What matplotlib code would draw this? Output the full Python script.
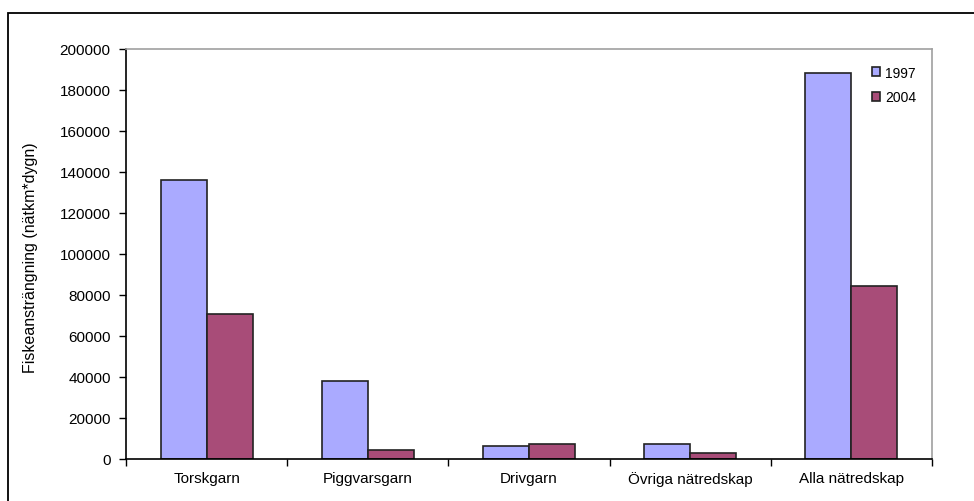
import matplotlib
matplotlib.use("Agg")
import matplotlib.pyplot as plt
import numpy as np
from matplotlib.patches import Rectangle

plt.rcParams['font.family'] = ['Liberation Sans', 'DejaVu Sans']

categories = ["Torskgarn", "Piggvarsgarn", "Drivgarn", "Övriga nätredskap", "Alla nätredskap"]
values_1997 = [136000, 38000, 6500, 7100, 188500]
values_2004 = [70500, 4300, 7100, 2800, 84200]
years = ["1997", "2004"]
colors = ["#AAAAFF", "#A84C78"]

W, H = 974, 502
fig = plt.figure(figsize=(W / 100, H / 100), dpi=100)

# outer chart frame (extends past right/bottom edge like the original)
fig.patches.append(Rectangle((8 / W, -0.1), 1.1, (H - 14) / H + 0.1,
                             transform=fig.transFigure, fill=False,
                             edgecolor="black", linewidth=1.3))

ax = fig.add_axes([126 / W, (H - 460) / H, 806 / W, 410 / H])

x = np.arange(len(categories))
bw = 0.285
ax.bar(x - bw / 2, values_1997, width=bw, color=colors[0], edgecolor="#222222",
       linewidth=1.2, label=years[0])
ax.bar(x + bw / 2, values_2004, width=bw, color=colors[1], edgecolor="#222222",
       linewidth=1.2, label=years[1])

ax.set_xlim(-0.5, len(categories) - 0.5)
ax.set_ylim(0, 200000)
ax.set_yticks(np.arange(0, 200001, 20000))
ax.tick_params(axis="y", labelsize=11, length=5, direction="out", width=1, pad=6)

# category labels centred, ticks at boundaries
ax.set_xticks(x)
ax.set_xticklabels(categories, fontsize=11)
ax.tick_params(axis="x", length=0, pad=9)
ax.set_xticks(np.arange(-0.5, len(categories), 1), minor=True)
ax.tick_params(axis="x", which="minor", length=5, width=1, direction="out")

for side in ["top", "right"]:
    ax.spines[side].set_color("#A0A0A0")
    ax.spines[side].set_linewidth(1.2)
for side in ["left", "bottom"]:
    ax.spines[side].set_color("black")
    ax.spines[side].set_linewidth(1.2)

ax.set_ylabel("Fiskeansträngning (nätkm*dygn)", fontsize=11.5)
ax.yaxis.set_label_coords(-0.109, 0.494)

leg = ax.legend(loc="upper right", bbox_to_anchor=(0.996, 0.99), frameon=False,
                fontsize=10, handlelength=0.6, handleheight=0.6, handletextpad=0.35,
                labelspacing=0.75)

fig.savefig("out.png", dpi=100)
